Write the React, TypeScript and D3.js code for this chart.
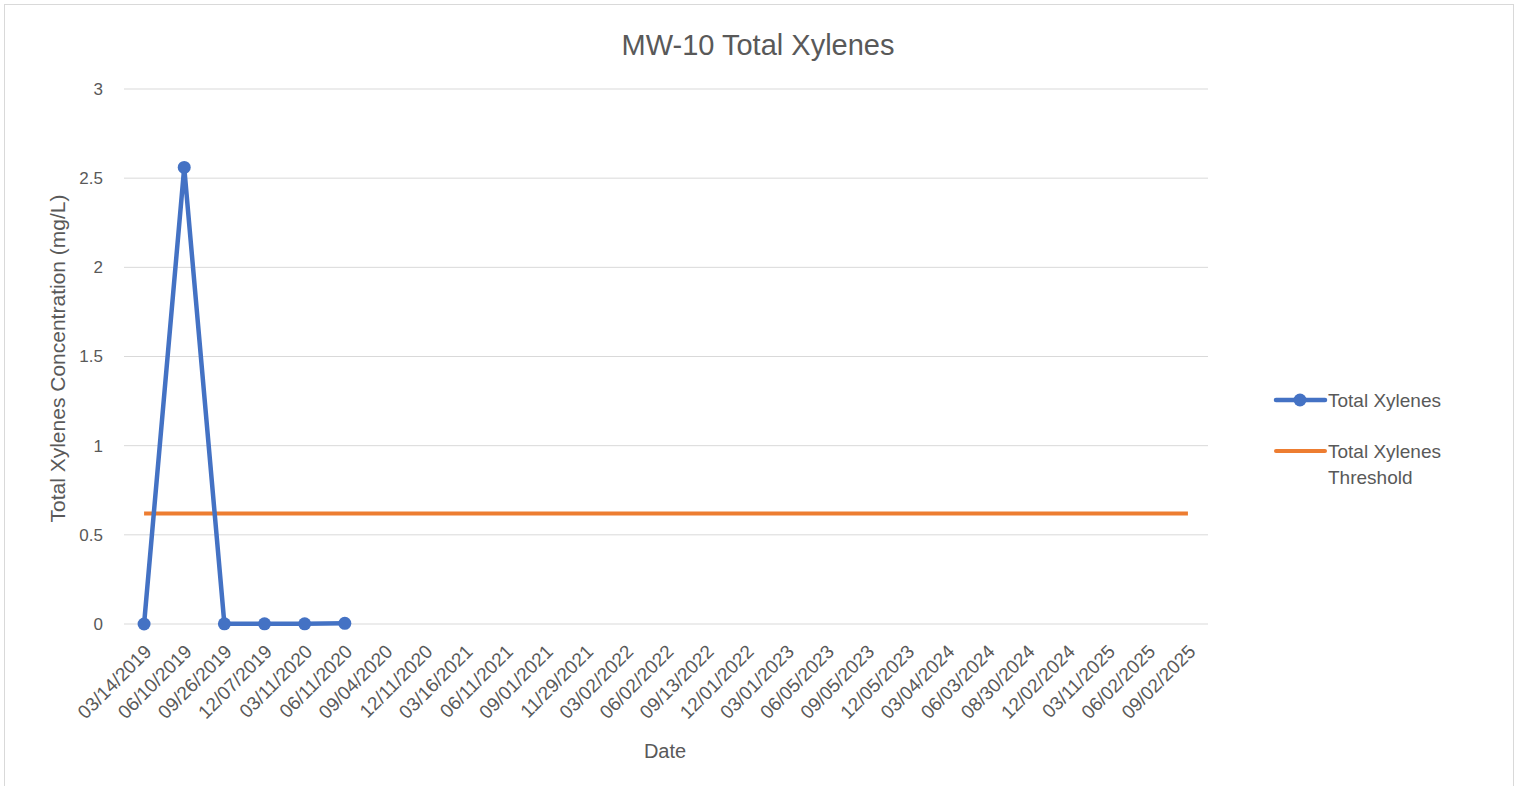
import React, { useRef, useEffect } from 'react';
import * as d3 from 'd3';

const dates = [
  "03/14/2019", "06/10/2019", "09/26/2019", "12/07/2019", "03/11/2020", "06/11/2020",
  "09/04/2020", "12/11/2020", "03/16/2021", "06/11/2021", "09/01/2021", "11/29/2021",
  "03/02/2022", "06/02/2022", "09/13/2022", "12/01/2022", "03/01/2023", "06/05/2023",
  "09/05/2023", "12/05/2023", "03/04/2024", "06/03/2024", "08/30/2024", "12/02/2024",
  "03/11/2025", "06/02/2025", "09/02/2025"
];
// measured values (only the first six dates have results)
const xyleneValues = [0, 2.56, 0.001, 0.001, 0.001, 0.004];
const thresholdValue = 0.62;
const yTicks = [0, 0.5, 1, 1.5, 2, 2.5, 3];

const BLUE = "#4472C4";
const ORANGE = "#ED7D31";
const TEXT = "#595959";
const GRID = "#D9D9D9";
const FONT = "'Liberation Sans', Arial, sans-serif";

const App = () => {
  const ref = useRef<SVGSVGElement>(null);

  useEffect(() => {
    const svg = d3.select(ref.current);
    svg.selectAll("*").remove();

    const width = 1520;
    const height = 786;
    const margin = { top: 89, right: 312, bottom: 162, left: 124 };

    svg.append("rect")
      .attr("x", 4.5).attr("y", 4.5)
      .attr("width", 1509).attr("height", 790)
      .attr("fill", "#fff").attr("stroke", GRID);

    const x = d3.scaleBand()
      .domain(dates)
      .range([margin.left, width - margin.right]);

    const y = d3.scaleLinear()
      .domain([0, 3])
      .range([height - margin.bottom, margin.top]);

    const cx = (d: string) => (x(d) as number) + x.bandwidth() / 2;

    // gridlines
    svg.append("g")
      .selectAll("line")
      .data(yTicks)
      .enter().append("line")
      .attr("x1", margin.left)
      .attr("x2", width - margin.right)
      .attr("y1", d => y(d))
      .attr("y2", d => y(d))
      .attr("stroke", GRID)
      .attr("stroke-width", 1);

    // y tick labels
    svg.append("g")
      .selectAll("text")
      .data(yTicks)
      .enter().append("text")
      .attr("x", 103)
      .attr("y", d => y(d))
      .attr("dy", "0.35em")
      .attr("text-anchor", "end")
      .attr("font-family", FONT)
      .attr("font-size", 17)
      .attr("fill", TEXT)
      .text(d => String(d));

    // x tick labels
    svg.append("g")
      .selectAll("text")
      .data(dates)
      .enter().append("text")
      .attr("transform", d => `translate(${cx(d) + 4},${y(0) + 24}) rotate(-45)`)
      .attr("text-anchor", "end")
      .attr("dy", "0.35em")
      .attr("font-family", FONT)
      .attr("font-size", 19)
      .attr("fill", TEXT)
      .text(d => d);

    // threshold line
    const thresh = d3.line<string>()
      .x(d => cx(d))
      .y(() => y(thresholdValue));
    svg.append("path")
      .attr("d", thresh(dates))
      .attr("fill", "none")
      .attr("stroke", ORANGE)
      .attr("stroke-width", 4);

    // measured series
    const pts = xyleneValues.map((v, i) => ({ date: dates[i], v }));
    const line = d3.line<{ date: string; v: number }>()
      .x(d => cx(d.date))
      .y(d => y(d.v));
    svg.append("path")
      .attr("d", line(pts))
      .attr("fill", "none")
      .attr("stroke", BLUE)
      .attr("stroke-width", 4.5)
      .attr("stroke-linejoin", "round");

    svg.append("g")
      .selectAll("circle")
      .data(pts)
      .enter().append("circle")
      .attr("cx", d => cx(d.date))
      .attr("cy", d => y(d.v))
      .attr("r", 6.5)
      .attr("fill", BLUE);

    // title and axis titles
    svg.append("text")
      .attr("x", 758).attr("y", 45)
      .attr("dy", "0.35em")
      .attr("text-anchor", "middle")
      .attr("font-family", FONT)
      .attr("font-size", 29)
      .attr("fill", TEXT)
      .text("MW-10 Total Xylenes");

    svg.append("text")
      .attr("x", 665).attr("y", 751)
      .attr("dy", "0.35em")
      .attr("text-anchor", "middle")
      .attr("font-family", FONT)
      .attr("font-size", 20)
      .attr("fill", TEXT)
      .text("Date");

    svg.append("text")
      .attr("transform", `translate(58,${(y(0) + y(3)) / 2 + 2}) rotate(-90)`)
      .attr("dy", "0.35em")
      .attr("text-anchor", "middle")
      .attr("font-family", FONT)
      .attr("font-size", 21)
      .attr("fill", TEXT)
      .text("Total Xylenes Concentration (mg/L)");

    // legend
    const lg = svg.append("g");
    lg.append("line")
      .attr("x1", 1276).attr("x2", 1325).attr("y1", 400).attr("y2", 400)
      .attr("stroke", BLUE).attr("stroke-width", 4.5).attr("stroke-linecap", "round");
    lg.append("circle").attr("cx", 1300).attr("cy", 400).attr("r", 6.5).attr("fill", BLUE);
    lg.append("text")
      .attr("x", 1328).attr("y", 400).attr("dy", "0.35em")
      .attr("font-family", FONT).attr("font-size", 19).attr("fill", TEXT)
      .text("Total Xylenes");

    lg.append("line")
      .attr("x1", 1276).attr("x2", 1325).attr("y1", 451).attr("y2", 451)
      .attr("stroke", ORANGE).attr("stroke-width", 4).attr("stroke-linecap", "round");
    const t2 = lg.append("text")
      .attr("x", 1328).attr("y", 451).attr("dy", "0.35em")
      .attr("font-family", FONT).attr("font-size", 19).attr("fill", TEXT);
    t2.append("tspan").attr("x", 1328).text("Total Xylenes");
    t2.append("tspan").attr("x", 1328).attr("dy", 26).text("Threshold");
  }, []);

  return (
    <svg ref={ref} width={1520} height={786}
      style={{ position: "absolute", left: 0, top: 0, display: "block" }} />
  );
};

export default App;
